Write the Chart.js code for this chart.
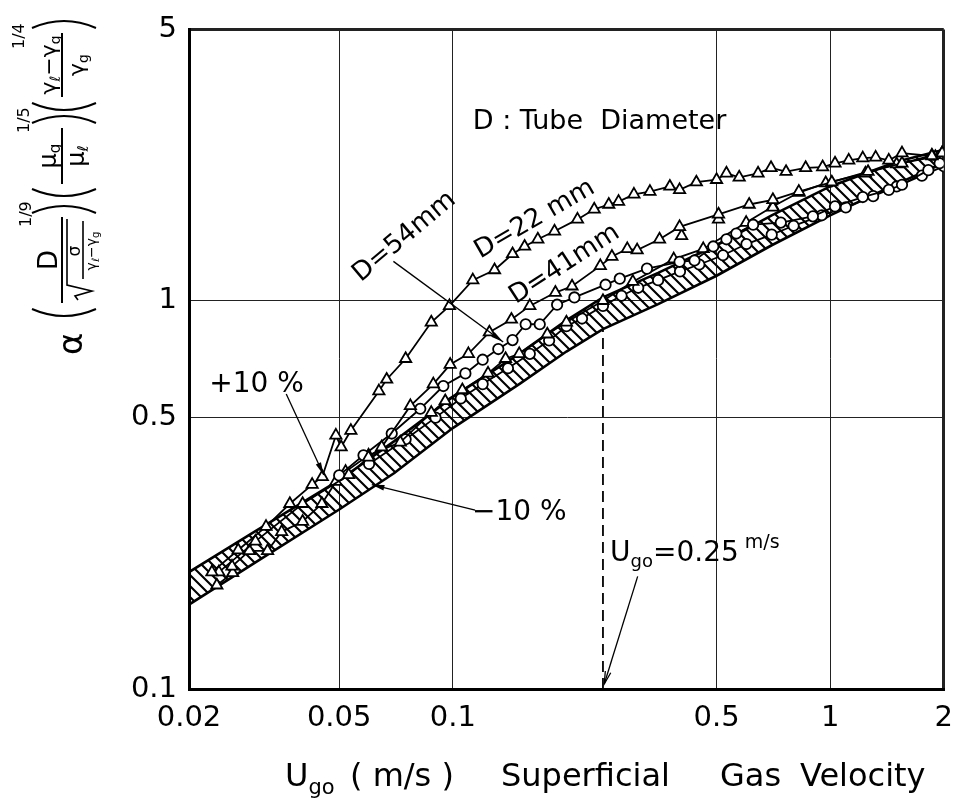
<!DOCTYPE html>
<html>
<head>
<meta charset="utf-8">
<script src="https://cdn.jsdelivr.net/npm/chart.js@4.4.1/dist/chart.umd.min.js"></script>
<style>
  body { margin: 0; background: #fff; }
  #wrap { width: 965px; height: 800px; position: relative; }
</style>
</head>
<body>
<div id="wrap"><canvas id="chart"></canvas></div>
<script>
// Tick values
const xTicks = [0.02, 0.05, 0.1, 0.5, 1, 2];
const yTicks = [0.1, 0.5, 1, 5];

// Correlation band (+10 % / -10 %)
const bandX     = [0.02, 0.03, 0.05, 0.07, 0.1, 0.15, 0.2, 0.25, 0.35, 0.5, 0.7, 1.0, 1.5, 2.0];
const bandUpper = [0.20, 0.255, 0.345, 0.435, 0.565, 0.73, 0.89, 1.02, 1.18, 1.39, 1.66, 1.97, 2.28, 2.45];
const bandLower = [0.165, 0.212, 0.29, 0.36, 0.47, 0.61, 0.74, 0.845, 0.98, 1.16, 1.39, 1.66, 2.0, 2.26];

// D = 22 mm (triangles)
const d22X = [0.023, 0.027, 0.032, 0.037, 0.0424, 0.0451, 0.049, 0.0506, 0.0537, 0.0637, 0.0668, 0.075, 0.0877, 0.098,
              0.113, 0.129, 0.144, 0.155, 0.168, 0.186, 0.214, 0.237, 0.259, 0.275, 0.302, 0.333, 0.376, 0.399, 0.442,
              0.50, 0.531, 0.574, 0.644, 0.697, 0.764, 0.861, 0.955, 1.03, 1.12, 1.22, 1.32, 1.43, 1.55, 1.86, 1.98];
const d22Y = [0.20, 0.228, 0.262, 0.30, 0.336, 0.352, 0.45, 0.42, 0.463, 0.585, 0.627, 0.709, 0.88, 0.97,
              1.13, 1.20, 1.32, 1.38, 1.44, 1.51, 1.62, 1.72, 1.77, 1.80, 1.88, 1.91, 1.97, 1.93, 2.02,
              2.05, 2.13, 2.08, 2.13, 2.20, 2.15, 2.20, 2.21, 2.26, 2.30, 2.33, 2.34, 2.30, 2.40, 2.36, 2.40];

// D = 41 mm (triangles)
const d41X = [0.024, 0.03, 0.04, 0.053, 0.0598, 0.0648, 0.0772, 0.0888, 0.0984, 0.11, 0.125, 0.143, 0.16, 0.187,
              0.207, 0.246, 0.264, 0.29, 0.308, 0.353, 0.399, 0.506, 0.61, 0.705, 0.826, 1.01, 1.26, 1.55, 1.86, 1.98];
const d41Y = [0.20, 0.24, 0.30, 0.356, 0.395, 0.42, 0.536, 0.61, 0.685, 0.73, 0.83, 0.895, 0.97, 1.05,
              1.09, 1.23, 1.30, 1.36, 1.35, 1.44, 1.55, 1.67, 1.77, 1.82, 1.91, 2.02, 2.15, 2.26, 2.37, 2.40];
// extra stacked D = 41 mm points
const d41ExtraX = [0.404, 0.506, 0.705];
const d41ExtraY = [1.47, 1.62, 1.74];

// D = 54 mm (circles)
const d54X = [0.05, 0.058, 0.0689, 0.082, 0.0944, 0.108, 0.12, 0.132, 0.144, 0.156, 0.17, 0.189, 0.21, 0.254,
              0.277, 0.327, 0.399, 0.437, 0.49, 0.531, 0.564, 0.625, 0.74, 0.9, 1.03, 1.22, 1.43, 1.55, 1.82, 1.95];
const d54Y = [0.355, 0.40, 0.455, 0.527, 0.603, 0.65, 0.705, 0.751, 0.792, 0.87, 0.87, 0.977, 1.02, 1.10,
              1.14, 1.21, 1.26, 1.27, 1.38, 1.44, 1.49, 1.57, 1.59, 1.65, 1.75, 1.85, 1.93, 1.99, 2.17, 2.26];

// triangles inside / along the band
const bandTriX = [0.0237, 0.0261, 0.026, 0.0289, 0.0323, 0.0352, 0.04, 0.045, 0.049, 0.052, 0.0598, 0.0726, 0.0877,
                  0.0955, 0.106, 0.124, 0.138, 0.15, 0.178, 0.2, 0.25, 0.3, 0.385, 0.461, 0.599, 0.705, 0.826, 0.973,
                  1.24, 1.5, 1.9];
const bandTriY = [0.185, 0.199, 0.207, 0.227, 0.227, 0.254, 0.27, 0.30, 0.342, 0.363, 0.40, 0.432, 0.515,
                  0.552, 0.589, 0.65, 0.709, 0.73, 0.82, 0.88, 1.0, 1.12, 1.28, 1.36, 1.59, 1.75, 1.90, 2.01,
                  2.13, 2.25, 2.35];

// circles inside / along the band
const bandCirX = [0.06, 0.075, 0.09, 0.105, 0.12, 0.14, 0.16, 0.18, 0.2, 0.22, 0.25, 0.28, 0.31, 0.35, 0.4, 0.45,
                  0.52, 0.6, 0.7, 0.8, 0.95, 1.1, 1.3, 1.5, 1.75, 2.0];
const bandCirY = [0.38, 0.44, 0.50, 0.56, 0.61, 0.67, 0.73, 0.79, 0.86, 0.90, 0.97, 1.03, 1.08, 1.13, 1.19, 1.24,
                  1.31, 1.40, 1.48, 1.56, 1.66, 1.74, 1.86, 1.97, 2.10, 2.22];

// Ugo = 0.25 m/s marker
const markX = [0.25, 0.25];
const markY = [0.1, 0.845];

const FONT = "'DejaVu Sans', sans-serif";

function pts(xs, ys) {
    return xs.map((x, i) => ({ x: x, y: ys[i] }));
}

// diagonal hatch for the band
function hatchPattern() {
    const c = document.createElement('canvas');
    c.width = 11; c.height = 11;
    const g = c.getContext('2d');
    g.strokeStyle = '#000';
    g.lineWidth = 2.1;
    g.beginPath();
    g.moveTo(-1, -1); g.lineTo(12, 12);
    g.moveTo(-6.5, 4.5); g.lineTo(6.5, 17.5);
    g.moveTo(4.5, -6.5); g.lineTo(17.5, 6.5);
    g.stroke();
    return g.createPattern(c, 'repeat');
}

function series(xs, ys, style, order) {
    const isTri = style === 'triangle';
    return {
        data: pts(xs, ys),
        showLine: true,
        borderColor: '#000',
        borderWidth: 1.8,
        pointStyle: style,
        pointRadius: isTri ? 6.5 : 5.2,
        pointBorderWidth: 1.8,
        pointBackgroundColor: '#fff',
        pointBorderColor: '#000',
        order: order
    };
}

// draw text made of pieces (text, size, dy)
function rich(ctx, parts, x, y, align) {
    let w = 0;
    parts.forEach(p => { ctx.font = p[1] + 'px ' + FONT; w += ctx.measureText(p[0]).width; });
    let cx = align === 'center' ? x - w / 2 : x;
    parts.forEach(p => {
        ctx.font = p[1] + 'px ' + FONT;
        ctx.fillText(p[0], cx, y + (p[2] || 0));
        cx += ctx.measureText(p[0]).width;
    });
}

function paren(ctx, u, dir) {
    ctx.beginPath();
    ctx.moveTo(u, -30);
    ctx.quadraticCurveTo(u + dir * 14, 2, u, 34);
    ctx.stroke();
}

function hline(ctx, u1, u2, v) {
    ctx.beginPath();
    ctx.moveTo(u1, v);
    ctx.lineTo(u2, v);
    ctx.stroke();
}

function arrow(ctx, x1, y1, x2, y2, open) {
    ctx.beginPath();
    ctx.moveTo(x1, y1);
    ctx.lineTo(x2, y2);
    ctx.stroke();
    const a = Math.atan2(y2 - y1, x2 - x1), L = 13, w = 0.22;
    ctx.beginPath();
    ctx.moveTo(x2 - L * Math.cos(a - w), y2 - L * Math.sin(a - w));
    ctx.lineTo(x2, y2);
    ctx.lineTo(x2 - L * Math.cos(a + w), y2 - L * Math.sin(a + w));
    if (open) {
        ctx.stroke();
    } else {
        ctx.closePath();
        ctx.fill();
    }
}

// rotated y-axis title
function yTitle(ctx) {
    ctx.save();
    ctx.translate(62, 355);
    ctx.rotate(-Math.PI / 2);
    ctx.fillStyle = '#000';
    ctx.strokeStyle = '#000';
    ctx.lineWidth = 2;
    ctx.textAlign = 'left';
    ctx.textBaseline = 'alphabetic';

    rich(ctx, [['α', 34]], 0, 20, 'left');
    paren(ctx, 46, -1);
    // D / sqrt(sigma / (gl - gg))
    hline(ctx, 52, 138, 0);
    rich(ctx, [['D', 26]], 95, -5, 'center');
    ctx.lineWidth = 1.6;
    ctx.beginPath();
    ctx.moveTo(55, 16); ctx.lineTo(59, 13); ctx.lineTo(64, 30); ctx.lineTo(70, 5); ctx.lineTo(136, 5);
    ctx.stroke();
    rich(ctx, [['σ', 17]], 104, 18, 'center');
    hline(ctx, 76, 134, 21);
    rich(ctx, [['γ', 14], ['ℓ', 10, 3], ['−γ', 14], ['g', 10, 3]], 104, 34, 'center');
    ctx.lineWidth = 2;
    paren(ctx, 142, 1);
    rich(ctx, [['1/9', 16]], 128, -31, 'left');

    paren(ctx, 166, -1);
    hline(ctx, 171, 227, 0);
    rich(ctx, [['μ', 24], ['g', 15, 4]], 199, -6, 'center');
    rich(ctx, [['μ', 24], ['ℓ', 15, 4]], 199, 22, 'center');
    paren(ctx, 232, 1);
    rich(ctx, [['1/5', 16]], 222, -33, 'left');

    paren(ctx, 252, -1);
    hline(ctx, 258, 322, 0);
    rich(ctx, [['γ', 22], ['ℓ', 14, 4], ['−γ', 22], ['g', 14, 4]], 290, -6, 'center');
    rich(ctx, [['γ', 22], ['g', 14, 4]], 290, 22, 'center');
    paren(ctx, 327, 1);
    rich(ctx, [['1/4', 16]], 306, -38, 'left');
    ctx.restore();
}

const notesPlugin = {
    id: 'notes',
    afterDraw(chart) {
        const ctx = chart.ctx;
        const sx = chart.scales.x, sy = chart.scales.y;
        const px = (x, y) => [sx.getPixelForValue(x), sy.getPixelForValue(y)];
        ctx.save();
        ctx.fillStyle = '#000';
        ctx.strokeStyle = '#000';
        ctx.textBaseline = 'alphabetic';
        ctx.textAlign = 'left';

        // D : Tube Diameter
        let p = px(0.113, 2.77);
        rich(ctx, [['D : Tube  Diameter', 27]], p[0], p[1], 'left');

        // rotated curve labels
        const rot = (text, x, y, ang, size) => {
            const q = px(x, y);
            ctx.save();
            ctx.translate(q[0], q[1]);
            ctx.rotate(ang * Math.PI / 180);
            ctx.textAlign = 'center';
            ctx.textBaseline = 'middle';
            ctx.font = size + 'px ' + FONT;
            ctx.fillText(text, 0, 0);
            ctx.restore();
        };
        rot('D=54mm', 0.0745, 1.46, -40, 26);
        rot('D=22 mm', 0.165, 1.62, -30, 26);
        rot('D=41mm', 0.198, 1.24, -33, 26);

        ctx.lineWidth = 1.3;
        // D = 54 mm leader
        let a = px(0.0696, 1.263), b = px(0.136, 0.783);
        arrow(ctx, a[0], a[1], b[0], b[1], false);

        // +10 %
        p = px(0.0302, 0.623);
        rich(ctx, [['+10 %', 28]], p[0], p[1] + 11, 'center');
        a = px(0.0362, 0.575); b = px(0.0455, 0.356);
        arrow(ctx, a[0], a[1], b[0], b[1], false);

        // -10 %
        p = px(0.150, 0.29);
        rich(ctx, [['−10 %', 28]], p[0], p[1] + 11, 'center');
        a = px(0.1146, 0.289); b = px(0.061, 0.336);
        arrow(ctx, a[0], a[1], b[0], b[1], false);

        // Ugo = 0.25 m/s
        p = px(0.261, 0.214);
        rich(ctx, [['U', 28], ['go', 18, 6], ['=0.25', 28], [' m/s', 19, -13]], p[0], p[1], 'left');
        a = px(0.309, 0.195); b = px(0.252, 0.103);
        arrow(ctx, a[0], a[1], b[0], b[1], true);

        // x-axis title
        const ty = 786;
        rich(ctx, [['U', 32], ['go', 21, 8]], 285, ty, 'left');
        rich(ctx, [['( m/s )', 32]], 350, ty, 'left');
        rich(ctx, [['Superficial', 32]], 501, ty, 'left');
        rich(ctx, [['Gas', 32]], 720, ty, 'left');
        rich(ctx, [['Velocity', 32]], 800, ty, 'left');

        yTitle(ctx);
        ctx.restore();
    }
};

const edgeX = [xTicks[0], xTicks[xTicks.length - 1]];
const edgeY = [yTicks[0], yTicks[yTicks.length - 1]];

const band = hatchPattern();

new Chart(document.getElementById('chart'), {
    type: 'scatter',
    data: {
        datasets: [
            series(d22X, d22Y, 'triangle', 1),
            series(d41X, d41Y, 'triangle', 2),
            Object.assign(series(d41ExtraX, d41ExtraY, 'triangle', 2), { showLine: false }),
            series(d54X, d54Y, 'circle', 3),
            series(bandTriX, bandTriY, 'triangle', 4),
            series(bandCirX, bandCirY, 'circle', 5),
            {
                data: pts(markX, markY),
                showLine: true,
                borderColor: '#000',
                borderWidth: 1.8,
                borderDash: [11, 6],
                pointRadius: 0,
                order: 6
            },
            {
                data: pts(bandX, bandUpper),
                showLine: true,
                borderColor: '#000',
                borderWidth: 2.6,
                pointRadius: 0,
                backgroundColor: band,
                fill: '+1',
                order: 8
            },
            {
                data: pts(bandX, bandLower),
                showLine: true,
                borderColor: '#000',
                borderWidth: 2.6,
                pointRadius: 0,
                order: 9
            }
        ]
    },
    options: {
        responsive: true,
        maintainAspectRatio: false,
        animation: false,
        layout: { padding: { left: 0, top: 19, right: 16, bottom: 0 } },
        plugins: {
            legend: { display: false },
            tooltip: { enabled: false }
        },
        scales: {
            x: {
                type: 'logarithmic',
                min: edgeX[0],
                max: edgeX[1],
                afterBuildTicks: s => { s.ticks = xTicks.map(v => ({ value: v })); },
                afterFit: s => { s.height = 111; },
                ticks: {
                    autoSkip: false,
                    maxRotation: 0,
                    padding: 12,
                    color: '#000',
                    font: { family: 'DejaVu Sans', size: 29 },
                    callback: v => String(v)
                },
                grid: {
                    color: '#222',
                    drawTicks: false,
                    lineWidth: c => (c.tick && edgeX.includes(c.tick.value)) ? 3 : 1
                },
                border: { display: true, color: '#000', width: 3 }
            },
            y: {
                type: 'logarithmic',
                min: edgeY[0],
                max: edgeY[1],
                afterBuildTicks: s => { s.ticks = yTicks.map(v => ({ value: v })); },
                afterFit: s => { s.width = 189; },
                ticks: {
                    autoSkip: false,
                    padding: 12,
                    color: '#000',
                    font: { family: 'DejaVu Sans', size: 29 },
                    callback: v => String(v)
                },
                grid: {
                    color: '#222',
                    drawTicks: false,
                    lineWidth: c => (c.tick && edgeY.includes(c.tick.value)) ? 3 : 1
                },
                border: { display: true, color: '#000', width: 3 }
            }
        }
    },
    plugins: [notesPlugin]
});
</script>
</body>
</html>
